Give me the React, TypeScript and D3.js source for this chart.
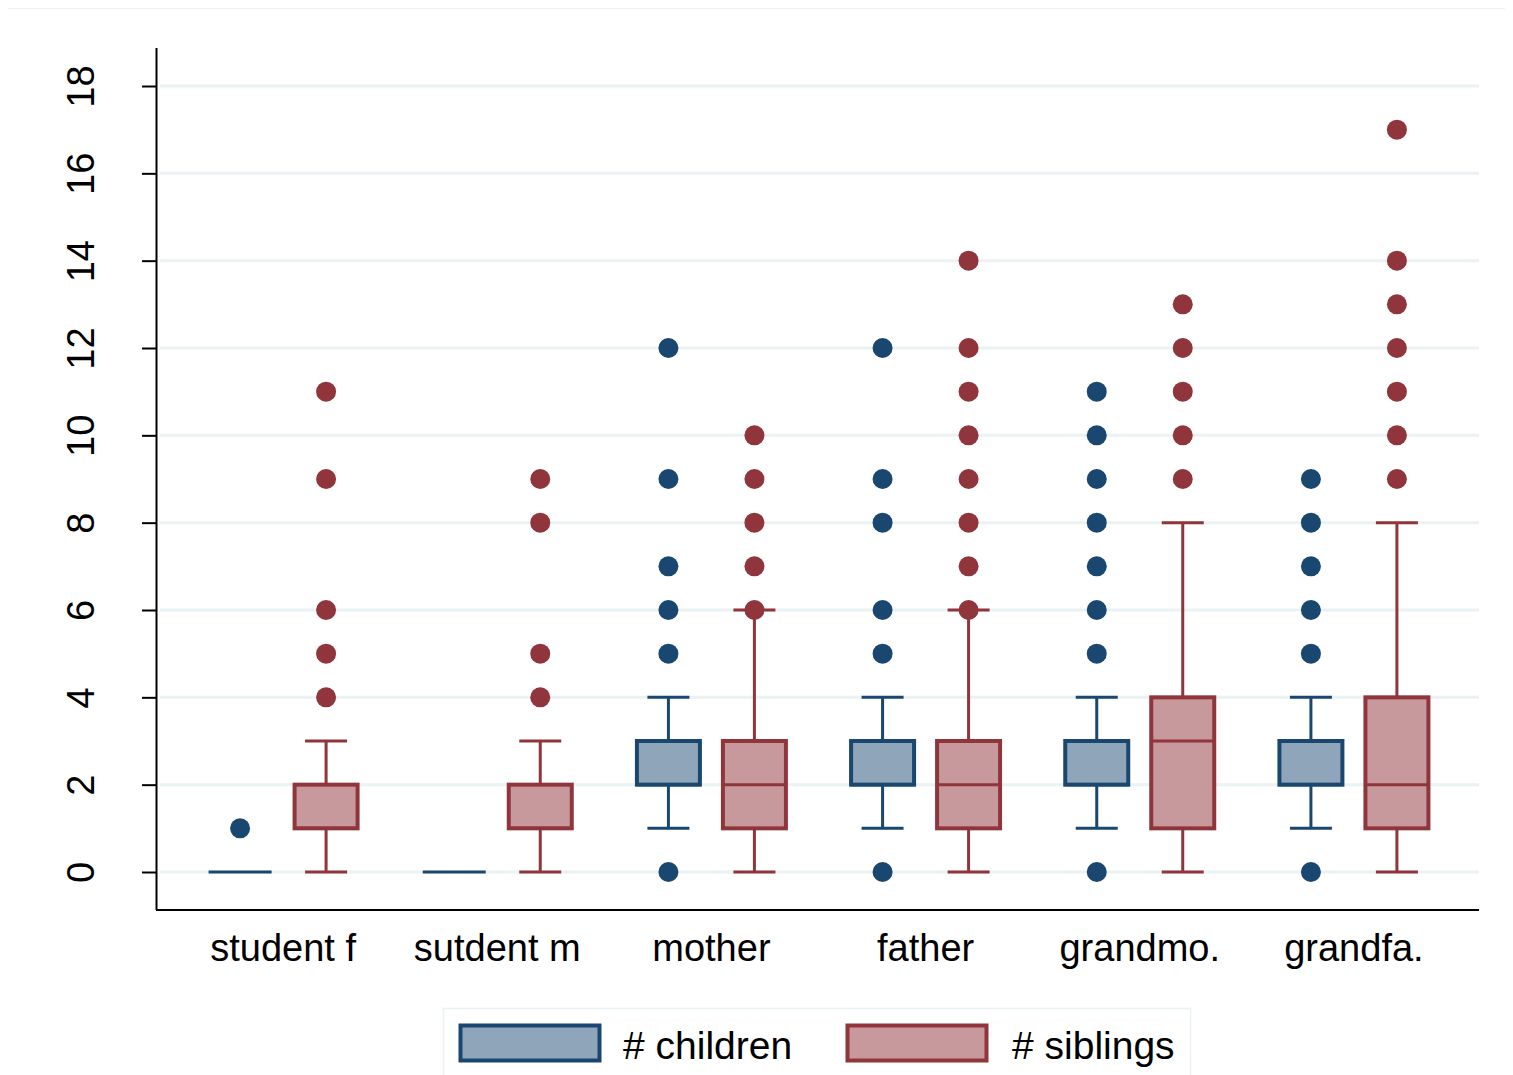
import React, { useEffect, useRef } from 'react';
import * as d3 from 'd3';

// groups on the x axis
const groups = ['student f', 'sutdent m', 'mother', 'father', 'grandmo.', 'grandfa.'];
const series = ['# children', '# siblings'];
const yTicks = [0, 2, 4, 6, 8, 10, 12, 14, 16, 18];

// [whiskerLo, q1, median, q3, whiskerHi] per group
const childrenStats = [
  [0, 0, 0, 0, 0],
  [0, 0, 0, 0, 0],
  [1, 2, 2, 3, 4],
  [1, 2, 2, 3, 4],
  [1, 2, 2, 3, 4],
  [1, 2, 2, 3, 4],
];
const siblingsStats = [
  [0, 1, 1, 2, 3],
  [0, 1, 1, 2, 3],
  [0, 1, 2, 3, 6],
  [0, 1, 2, 3, 6],
  [0, 1, 3, 4, 8],
  [0, 1, 2, 4, 8],
];
const childrenOutliers = [
  [1],
  [],
  [0, 5, 6, 7, 9, 12],
  [0, 5, 6, 8, 9, 12],
  [0, 5, 6, 7, 8, 9, 10, 11],
  [0, 5, 6, 7, 8, 9],
];
const siblingsOutliers = [
  [4, 5, 6, 9, 11],
  [4, 5, 8, 9],
  [6, 7, 8, 9, 10],
  [6, 7, 8, 9, 10, 11, 12, 14],
  [9, 10, 11, 12, 13],
  [9, 10, 11, 12, 13, 14, 17],
];

const strokeColors = ['#1a476f', '#90353b'];
const fillColors = ['#8ea5ba', '#c8999c'];

const App: React.FC = () => {
  const svgRef = useRef<SVGSVGElement>(null);

  useEffect(() => {
    if (!svgRef.current) return;
    const svg = d3.select(svgRef.current);
    svg.selectAll('*').remove();

    const font = 'Liberation Sans, Arial, sans-serif';
    const plotLeft = 157;
    const plotRight = 1479;
    const axisY = 910;

    // outer graph region
    svg.append('rect')
      .attr('x', 0).attr('y', 0)
      .attr('width', 1513).attr('height', 1075)
      .attr('fill', '#ffffff');
    svg.append('line')
      .attr('x1', 8).attr('x2', 1505)
      .attr('y1', 8.5).attr('y2', 8.5)
      .attr('stroke', '#eef3f5')
      .attr('stroke-width', 1);

    const y = d3.scaleLinear().domain([0, 18]).range([872, 86]);
    const x = d3.scaleBand<string>().domain(groups).range([176, 1461]);
    const xs = d3.scalePoint<string>().domain(series).range([-86, 86]).padding(0.5);

    // gridlines
    svg.append('g')
      .selectAll('line')
      .data(yTicks)
      .enter()
      .append('line')
      .attr('x1', plotLeft + 3)
      .attr('x2', plotRight)
      .attr('y1', d => y(d))
      .attr('y2', d => y(d))
      .attr('stroke', '#eaf2f3')
      .attr('stroke-width', 3);

    // y axis
    const yAxis = d3.axisLeft(y).tickValues(yTicks).tickSize(15).tickPadding(0);
    const ya = svg.append('g')
      .attr('transform', `translate(${plotLeft},0)`)
      .call(yAxis);
    ya.select('.domain')
      .attr('d', `M-0.5,48V${axisY}`)
      .attr('stroke', '#000')
      .attr('stroke-width', 2);
    ya.selectAll('.tick line').attr('stroke', '#000').attr('stroke-width', 2);
    ya.selectAll('.tick text')
      .attr('transform', 'translate(-76,0) rotate(-90)')
      .attr('x', 0)
      .attr('dy', '0.35em')
      .attr('text-anchor', 'middle')
      .style('font-family', font)
      .style('font-size', '38px')
      .style('fill', '#000');

    // x axis
    const xAxis = d3.axisBottom(x).tickSize(0).tickPadding(24);
    const xa = svg.append('g')
      .attr('transform', `translate(0,${axisY})`)
      .call(xAxis);
    xa.select('.domain')
      .attr('d', `M${plotLeft - 1},0H${plotRight}`)
      .attr('stroke', '#000')
      .attr('stroke-width', 2);
    xa.selectAll('.tick text')
      .attr('dy', '0.71em')
      .style('font-family', font)
      .style('font-size', '38px')
      .style('fill', '#000');

    const allStats = [childrenStats, siblingsStats];
    const allOutliers = [childrenOutliers, siblingsOutliers];
    const boxW = 63;
    const capW = 42;

    series.forEach((s, si) => {
      const gS = svg.append('g');
      groups.forEach((grp, gi) => {
        const cx = (x(grp) as number) + x.bandwidth() / 2 + (xs(s) as number);
        const [lo, q1, med, q3, hi] = allStats[si][gi];
        const stroke = strokeColors[si];
        const g = gS.append('g');

        // whiskers
        if (hi > q3) {
          g.append('line')
            .attr('x1', cx).attr('x2', cx)
            .attr('y1', y(q3)).attr('y2', y(hi))
            .attr('stroke', stroke).attr('stroke-width', 3);
          g.append('line')
            .attr('x1', cx - capW / 2).attr('x2', cx + capW / 2)
            .attr('y1', y(hi)).attr('y2', y(hi))
            .attr('stroke', stroke).attr('stroke-width', 3);
        }
        if (lo < q1) {
          g.append('line')
            .attr('x1', cx).attr('x2', cx)
            .attr('y1', y(q1)).attr('y2', y(lo))
            .attr('stroke', stroke).attr('stroke-width', 3);
          g.append('line')
            .attr('x1', cx - capW / 2).attr('x2', cx + capW / 2)
            .attr('y1', y(lo)).attr('y2', y(lo))
            .attr('stroke', stroke).attr('stroke-width', 3);
        }

        // box
        if (q3 > q1) {
          g.append('rect')
            .attr('x', cx - boxW / 2)
            .attr('y', y(q3))
            .attr('width', boxW)
            .attr('height', y(q1) - y(q3))
            .attr('fill', fillColors[si])
            .attr('stroke', stroke)
            .attr('stroke-width', 4);
        }
        g.append('line')
          .attr('x1', cx - boxW / 2).attr('x2', cx + boxW / 2)
          .attr('y1', y(med)).attr('y2', y(med))
          .attr('stroke', stroke).attr('stroke-width', 3);

        // outliers
        g.selectAll('circle')
          .data(allOutliers[si][gi])
          .enter()
          .append('circle')
          .attr('cx', cx)
          .attr('cy', d => y(d))
          .attr('r', 10)
          .attr('fill', stroke);
      });
    });

    // legend
    const legend = svg.append('g');
    legend.append('rect')
      .attr('x', 443.5).attr('y', 1008.5)
      .attr('width', 747).attr('height', 80)
      .attr('fill', '#ffffff')
      .attr('stroke', '#eaf2f3')
      .attr('stroke-width', 1.5);
    const keyX = [459, 846];
    const textX = [623, 1012];
    series.forEach((s, si) => {
      legend.append('rect')
        .attr('x', keyX[si] + 1.5).attr('y', 1025.5)
        .attr('width', 139).attr('height', 35)
        .attr('fill', fillColors[si])
        .attr('stroke', strokeColors[si])
        .attr('stroke-width', 4);
      legend.append('text')
        .attr('x', textX[si])
        .attr('y', 1059)
        .text(s)
        .style('font-family', font)
        .style('font-size', '39px')
        .style('fill', '#000');
    });
  }, []);

  return (
    <svg
      ref={svgRef}
      width={1513}
      height={1075}
      style={{ position: 'absolute', left: 0, top: 0 }}
    />
  );
};

export default App;
